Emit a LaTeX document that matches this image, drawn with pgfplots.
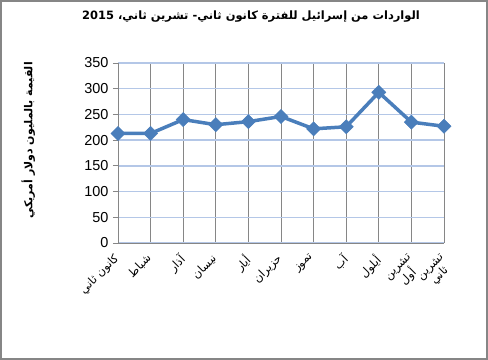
\documentclass[border=0pt]{standalone}
\usepackage{pgfplots}
\pgfplotsset{compat=1.18}
\usepackage{fontspec}
\setmainfont{Liberation Sans}
\newfontfamily\arabicfont[Script=Arabic]{DejaVu Sans}
\TeXXeTstate=1
\definecolor{serblue}{RGB}{74,126,187}
\definecolor{hgrid}{RGB}{180,199,231}
\definecolor{vgrid}{RGB}{134,134,134}
\definecolor{frame}{RGB}{134,134,134}
\begin{document}
\begin{tikzpicture}
\useasboundingbox (0,0) rectangle (488bp,360bp);
\fill[white] (0,0) rectangle (488bp,360bp);
\draw[frame,line width=2bp] (1bp,1bp) rectangle (487bp,359bp);
\begin{axis}[
  at={(118bp,117bp)}, anchor=south west,
  width=326bp, height=180bp, scale only axis,
  xmin=0, xmax=10, ymin=0, ymax=350,
  xtick={0,...,10},
  xticklabels={
    {\beginR كانون ثاني\endR},
    {\beginR شباط\endR},
    {\beginR آذار\endR},
    {\beginR نيسان\endR},
    {\beginR أيار\endR},
    {\beginR حزيران\endR},
    {\beginR تموز\endR},
    {\beginR آب\endR},
    {\beginR أيلول\endR},
    {\beginR تشرين\endR\\\beginR أول\endR},
    {\beginR تشرين\endR\\\beginR ثاني\endR}},
  ytick={0,50,...,350},
  axis lines*=left,
  axis line style={vgrid, line width=0.8bp},
  xmajorgrids, ymajorgrids,
  x grid style={vgrid, line width=0.8bp},
  y grid style={hgrid, line width=1.4bp},
  xtick style={draw=none},
  ytick style={vgrid, line width=0.8bp},
  tick align=outside,
  major tick length=5bp,
  /pgf/number format/assume math mode=true,
  yticklabel style={font=\fontsize{14.5}{16}\selectfont, xshift=-1bp},
  xticklabel style={xshift=-5bp, yshift=0bp, font=\arabicfont\fontsize{11.5}{13}\selectfont, rotate=45, anchor=north east, align=center},
  ylabel={\beginR القيمة بالمليون دولار أمريكي\endR},
  ylabel style={font=\arabicfont\bfseries\fontsize{11}{12}\selectfont, at={(axis description cs:-0.275,0.57)}, anchor=center},
  title={\beginR الواردات من إسرائيل للفترة كانون ثاني- تشرين ثاني، \beginL\textbf{2015}\endL\endR},
  title style={font=\arabicfont\bfseries\fontsize{11.5}{13}\selectfont, at={(axis description cs:0.408,1.225)}, anchor=center},
  clip=false,
]
\addplot[serblue, line width=3.5bp, mark=square*, mark size=5bp,
  mark options={rotate=45, fill=serblue, draw=serblue, line width=0.5bp}]
  coordinates {(0,213) (1,213) (2,240) (3,230) (4,236) (5,246) (6,222) (7,226) (8,293) (9,235) (10,227)};
\end{axis}
\end{tikzpicture}
\end{document}
